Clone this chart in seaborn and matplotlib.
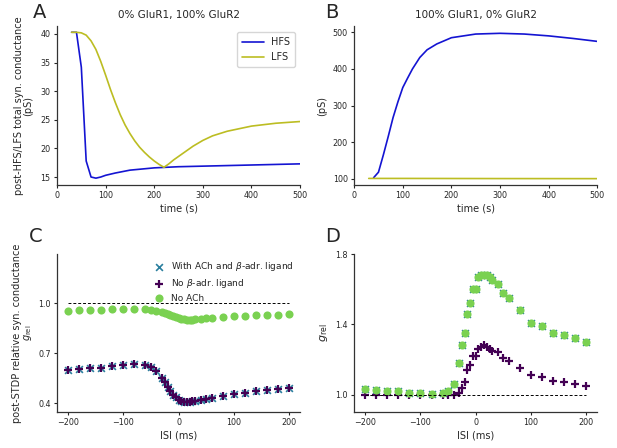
import numpy as np
import pandas as pd
import matplotlib
matplotlib.use("Agg")
import matplotlib.pyplot as plt
import seaborn as sns

# ---- panel A: 0% GluR1, 100% GluR2 ----
t_hfs_a = [30, 40, 50, 60, 70, 80, 90, 100, 120, 150, 200, 250, 300, 400, 500]
g_hfs_a = [40.3, 40.3, 34.2, 17.8, 15.0, 14.8, 15.0, 15.3, 15.7, 16.2, 16.6, 16.8, 16.9, 17.1, 17.3]
t_lfs_a = [30, 40, 50, 60, 70, 80, 90, 100, 110, 120, 130, 140, 150, 160, 170, 180, 190,
           200, 210, 220, 230, 240, 250, 260, 270, 280, 300, 320, 350, 400, 450, 500]
g_lfs_a = [40.3, 40.3, 40.2, 39.8, 38.8, 37.3, 35.2, 32.8, 30.3, 28.0, 25.9, 24.1, 22.6, 21.3,
           20.2, 19.3, 18.5, 17.8, 17.2, 16.7, 17.3, 18.0, 18.6, 19.2, 19.8, 20.4, 21.4, 22.2,
           23.0, 23.9, 24.4, 24.7]

# ---- panel B: 100% GluR1, 0% GluR2 ----
t_hfs_b = [40, 50, 60, 70, 80, 90, 100, 110, 120, 135, 150, 170, 200, 250, 300, 350, 400, 450, 500]
g_hfs_b = [103, 118, 165, 215, 267, 310, 349, 375, 400, 431, 452, 468, 485, 495, 497, 495, 490, 483, 475]
t_lfs_b = [30, 100, 200, 300, 400, 500]
g_lfs_b = [101, 101, 100.8, 100.6, 100.5, 100.4]

# ---- panels C / D: STDP ----
isi = [-200, -180, -160, -140, -120, -100, -80, -60, -50, -40, -30, -25, -20, -15, -10, -5,
       0, 5, 10, 15, 20, 25, 30, 40, 50, 60, 80, 100, 120, 140, 160, 180, 200]

c_noach = [0.955, 0.958, 0.960, 0.960, 0.962, 0.963, 0.965, 0.963, 0.960, 0.955, 0.948, 0.943,
           0.937, 0.930, 0.923, 0.917, 0.910, 0.905, 0.902, 0.900, 0.900, 0.901, 0.903, 0.906,
           0.909, 0.912, 0.917, 0.921, 0.924, 0.927, 0.929, 0.931, 0.933]
c_nobeta = [0.598, 0.604, 0.610, 0.608, 0.620, 0.628, 0.636, 0.630, 0.618, 0.594, 0.550, 0.524,
            0.494, 0.470, 0.450, 0.434, 0.420, 0.414, 0.408, 0.408, 0.408, 0.410, 0.413, 0.418,
            0.424, 0.432, 0.442, 0.454, 0.460, 0.470, 0.478, 0.482, 0.488]
c_both = c_nobeta

d_noach = [1.03, 1.025, 1.02, 1.02, 1.01, 1.01, 1.005, 1.01, 1.02, 1.06, 1.18, 1.28, 1.35, 1.46,
           1.52, 1.60, 1.60, 1.67, 1.68, 1.68, 1.68, 1.67, 1.65, 1.63, 1.58, 1.55, 1.48, 1.41,
           1.39, 1.35, 1.34, 1.32, 1.30]
d_nobeta = [1.0, 1.0, 1.0, 1.0, 1.0, 1.0, 1.0, 1.0, 1.0, 1.0, 1.01, 1.04, 1.07, 1.14, 1.17, 1.22,
            1.22, 1.26, 1.27, 1.28, 1.27, 1.26, 1.25, 1.24, 1.21, 1.19, 1.15, 1.11, 1.10, 1.08,
            1.07, 1.06, 1.05]
d_both = d_noach

labels = ["With ACh and $\\beta$-adr. ligand", "No $\\beta$-adr. ligand", "No ACh"]
colors = ["#2a7f9e", "#440154", "#7ad151"]

sns.set_style("ticks")
plt.rcParams['font.family'] = ['DejaVu Sans']
plt.rcParams['axes.edgecolor'] = '#333333'
plt.rcParams['axes.linewidth'] = 0.9

fig = plt.figure(figsize=(6.17, 4.48), dpi=100)
axA = fig.add_axes([0.0924, 0.587, 0.394, 0.355])
axB = fig.add_axes([0.574, 0.587, 0.394, 0.355])
axC = fig.add_axes([0.0924, 0.080, 0.394, 0.353])
axD = fig.add_axes([0.574, 0.080, 0.394, 0.353])

hfs_color = "#1414d2"
lfs_color = "#bcbd22"

# A
sns.lineplot(x=t_hfs_a, y=g_hfs_a, ax=axA, color=hfs_color, lw=1.2, label="HFS")
sns.lineplot(x=t_lfs_a, y=g_lfs_a, ax=axA, color=lfs_color, lw=1.2, label="LFS")
axA.set_xlim(0, 500)
axA.set_ylim(13.6, 41.4)
axA.set_yticks([15, 20, 25, 30, 35, 40])
axA.set_title("0% GluR1, 100% GluR2", fontsize=7.5)
axA.set_xlabel("time (s)", fontsize=7, labelpad=2)
axA.set_ylabel("post-HFS/LFS total syn. conductance\n(pS)", fontsize=7, labelpad=5,
               linespacing=1.0)
axA.legend(loc="upper right", fontsize=7, frameon=True, handlelength=2.2,
           borderpad=0.5, bbox_to_anchor=(1.0, 0.99))

# B
sns.lineplot(x=t_hfs_b, y=g_hfs_b, ax=axB, color=hfs_color, lw=1.2)
sns.lineplot(x=t_lfs_b, y=g_lfs_b, ax=axB, color=lfs_color, lw=1.2)
axB.set_xlim(0, 500)
axB.set_ylim(83, 517)
axB.set_yticks([100, 200, 300, 400, 500])
axB.set_title("100% GluR1, 0% GluR2", fontsize=7.5)
axB.set_xlabel("time (s)", fontsize=7, labelpad=2)
axB.set_ylabel("(pS)", fontsize=7, labelpad=4)


def stdp_panel(ax, both, nobeta, noach, legend):
    ax.plot([-200, 200], [1.0, 1.0], ls="--", color="black", lw=0.7, dashes=(3, 2))
    sns.scatterplot(x=isi, y=both, ax=ax, marker="x", color=colors[0], s=24,
                    linewidth=1.2, label=labels[0])
    sns.scatterplot(x=isi, y=nobeta, ax=ax, marker="+", color=colors[1], s=34,
                    linewidth=1.6, label=labels[1])
    sns.scatterplot(x=isi, y=noach, ax=ax, marker="o", color=colors[2], s=34,
                    linewidth=0, label=labels[2])
    ax.set_xlim(-220, 220)
    ax.set_xticks([-200, -100, 0, 100, 200])
    ax.set_xticklabels(["\u2212200", "\u2212100", "0", "100", "200"])
    ax.set_xlabel("ISI (ms)", fontsize=7, labelpad=2)
    if legend:
        ax.legend(loc="upper right", fontsize=6.5, frameon=False, handletextpad=0.3,
                  borderaxespad=0.3, labelspacing=0.4, bbox_to_anchor=(1.0, 1.0))
    else:
        ax.get_legend().remove()


stdp_panel(axC, c_both, c_nobeta, c_noach, True)
axC.set_ylim(0.345, 1.295)
axC.set_yticks([0.4, 0.7, 1.0])
axC.set_ylabel("post-STDP relative syn. conductance\n$g_{\\rm rel}$", fontsize=7, labelpad=3,
               linespacing=1.0)

stdp_panel(axD, d_both, d_nobeta, d_noach, False)
axD.set_ylim(0.9, 1.8)
axD.set_yticks([1.0, 1.4, 1.8])
axD.set_ylabel("$g_{\\rm rel}$", fontsize=8, labelpad=4)

for ax in (axA, axB, axC, axD):
    sns.despine(ax=ax)
    ax.tick_params(labelsize=5.8, length=2.5, width=0.8, pad=2)

for lab, x, y in [("A", 0.053, 0.973), ("B", 0.527, 0.973), ("C", 0.046, 0.472), ("D", 0.527, 0.472)]:
    fig.text(x, y, lab, fontsize=14, ha="left", va="center")

fig.savefig("out.png", dpi=100)
